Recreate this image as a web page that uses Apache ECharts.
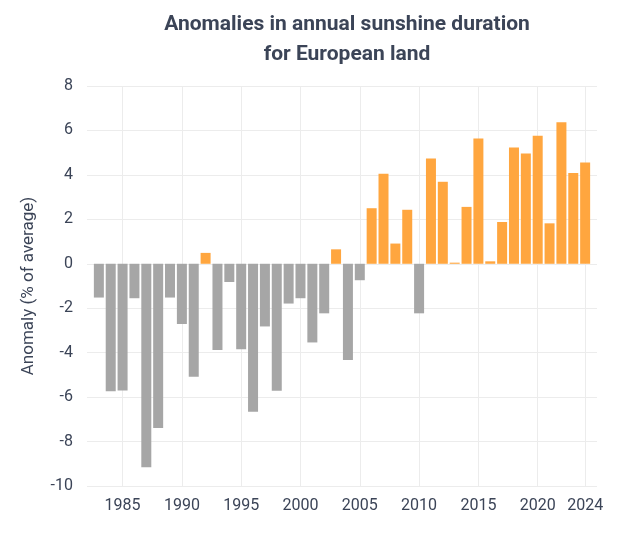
<!DOCTYPE html>
<html>
<head>
<meta charset="utf-8">
<script src="https://cdn.jsdelivr.net/npm/echarts@6/dist/echarts.min.js"></script>
<style>html,body{margin:0;padding:0;background:#fff}#c{width:624px;height:536px}</style>
</head>
<body>
<div id="c"></div>
<script>
const years = [1983,1984,1985,1986,1987,1988,1989,1990,1991,1992,1993,1994,1995,1996,1997,1998,1999,2000,2001,2002,2003,2004,2005,2006,2007,2008,2009,2010,2011,2012,2013,2014,2015,2016,2017,2018,2019,2020,2021,2022,2023,2024];
const anomalies = [-1.52,-5.74,-5.70,-1.55,-9.16,-7.39,-1.52,-2.71,-5.08,0.49,-3.88,-0.82,-3.85,-6.66,-2.82,-5.71,-1.79,-1.55,-3.54,-2.23,0.65,-4.33,-0.74,2.50,4.05,0.91,2.43,-2.23,4.74,3.69,0.05,2.56,5.64,0.11,1.88,5.23,4.96,5.76,1.82,6.37,4.09,4.56];
const xTickYears = [1985,1990,1995,2000,2005,2010,2015,2020,2024];
const yTicks = [-10,-8,-6,-4,-2,0,2,4,6,8];

const textColor = '#3b4457';
const chart = echarts.init(document.getElementById('c'));
chart.setOption({
  animation: false,
  title: {
    text: 'Anomalies in annual sunshine duration\nfor European land',
    left: 342, top: 5, textAlign: 'center',
    textStyle: {fontFamily: 'Roboto', fontWeight: 'bold', fontSize: 21, color: textColor, lineHeight: 30}
  },
  grid: {left: 87, right: 27, top: 86, bottom: 50},
  xAxis: {
    type: 'value', min: 1982, max: 2025,
    axisLine: {show: false}, axisTick: {show: false, customValues: xTickYears},
    axisLabel: {customValues: xTickYears, formatter: v => String(v), fontFamily: 'Roboto', fontSize: 16, color: textColor, margin: 12},
    splitLine: {show: true, lineStyle: {color: '#ececec', width: 1}}
  },
  yAxis: {
    type: 'value', min: yTicks[0], max: yTicks[yTicks.length-1], interval: 2,
    name: 'Anomaly (% of average)', nameLocation: 'middle', nameGap: 50,
    nameTextStyle: {fontFamily: 'Roboto', fontSize: 17, color: textColor},
    axisLine: {show: false}, axisTick: {show: false},
    axisLabel: {fontFamily: 'Roboto', fontSize: 16, color: textColor, margin: 14},
    splitLine: {lineStyle: {color: '#ececec', width: 1}}
  },
  series: [{
    type: 'bar',
    data: years.map((y, i) => [y, anomalies[i]]),
    barWidth: 10,
    itemStyle: {color: p => p.value[1] >= 0 ? '#ffa63f' : '#a6a6a6'}
  }]
});
</script>
</body>
</html>
